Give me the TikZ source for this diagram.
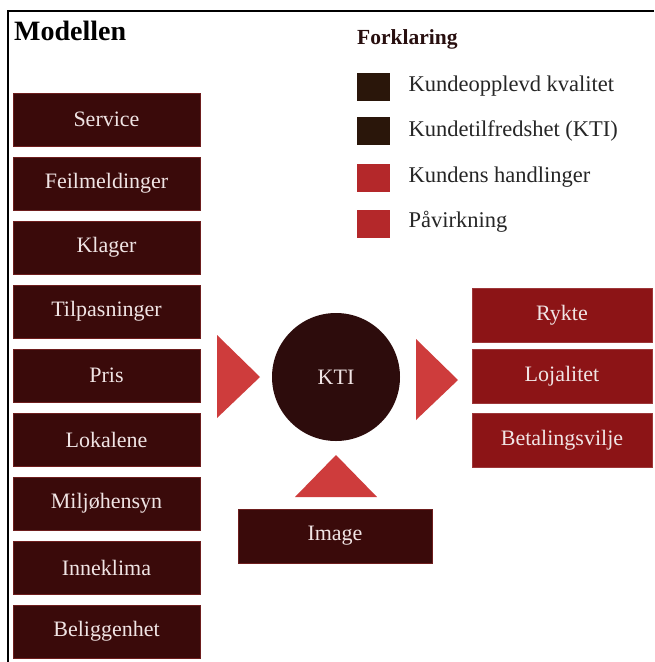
\documentclass[tikz,border=0pt]{standalone}
\usepackage{fontspec}
\setmainfont{Liberation Serif}
\definecolor{darkbox}{RGB}{58,10,10}
\definecolor{boxedge}{RGB}{110,30,30}
\definecolor{boxfg}{RGB}{240,228,228}
\definecolor{redbox}{RGB}{140,20,22}
\definecolor{arrowred}{RGB}{206,60,60}
\definecolor{ktidark}{RGB}{45,12,12}
\definecolor{keydark}{RGB}{42,22,10}
\definecolor{keyred}{RGB}{180,40,42}
\definecolor{headink}{RGB}{40,15,15}
\begin{document}
\begin{tikzpicture}[x=1pt,y=-1pt,
  boxtext/.style={font=\fontsize{22}{25}\selectfont, text=boxfg},
  factor/.style={boxtext, fill=darkbox, draw=boxedge, line width=0.8pt,
    minimum width=187pt, minimum height=53pt, inner sep=0pt},
  outcome/.style={boxtext, fill=redbox, draw=redbox!85!white, line width=0.8pt,
    minimum width=180pt, minimum height=54pt, inner sep=0pt},
  keysq/.style={minimum width=33pt, minimum height=28pt, inner sep=0pt},
  keytext/.style={anchor=west, font=\fontsize{22.5}{26}\selectfont, text=black!85},
  pointer/.style={fill=arrowred}]

\useasboundingbox (0,0) rectangle (654,662);
\fill[white] (0,0) rectangle (654,662);

% frame: rule along the top and down the left side
\draw[line width=2pt] (654,10.5) -- (7.5,10.5) -- (7.5,662);

% headings
\node[anchor=west, inner sep=0pt, font=\fontsize{28}{32}\selectfont\bfseries] (title) at (14,31) {Modellen};
\node[anchor=west, inner sep=0pt, font=\fontsize{21.5}{25}\selectfont\bfseries, text=headink] (keyhead) at (357,39) {Forklaring};

% legend
\node[keysq, fill=keydark] (k1) at (373.5,86.5) {};
\node[keysq, fill=keydark] (k2) at (373.5,131) {};
\node[keysq, fill=keyred]  (k3) at (373.5,178) {};
\node[keysq, fill=keyred]  (k4) at (373.5,223.5) {};
\node[keytext] (t1) at (405,86.5) {Kundeopplevd kvalitet};
\node[keytext] (t2) at (405,131) {Kundetilfredshet (KTI)};
\node[keytext] (t3) at (405,177) {Kundens handlinger};
\node[keytext] (t4) at (405,222) {Påvirkning};

% customer-experienced quality factors
\foreach \lbl [count=\i from 0] in {Service,Feilmeldinger,Klager,Tilpasninger,Pris,Lokalene,Miljøhensyn,Inneklima,Beliggenhet}
  \node[factor] (f\i) at (106.5,119.5+64*\i) {\lbl};

% satisfaction index
\node[circle, fill=ktidark, minimum size=128pt, inner sep=0pt, boxtext] (kti) at (336,377) {KTI};

% image
\node[factor, minimum width=194pt, minimum height=54pt] (image) at (335,536) {Image};

% customer actions
\node[outcome] (o1) at (562,315) {Rykte};
\node[outcome] (o2) at (562,376.5) {Lojalitet};
\node[outcome] (o3) at (562,440.5) {Betalingsvilje};

% influence pointers
\fill[pointer] (217,335) -- (260,377) -- (217,418) -- cycle;
\fill[pointer] (416,339) -- (458,380) -- (416,420) -- cycle;
\fill[pointer] (295,497) -- (336,455) -- (377,497) -- cycle;
\end{tikzpicture}
\end{document}
